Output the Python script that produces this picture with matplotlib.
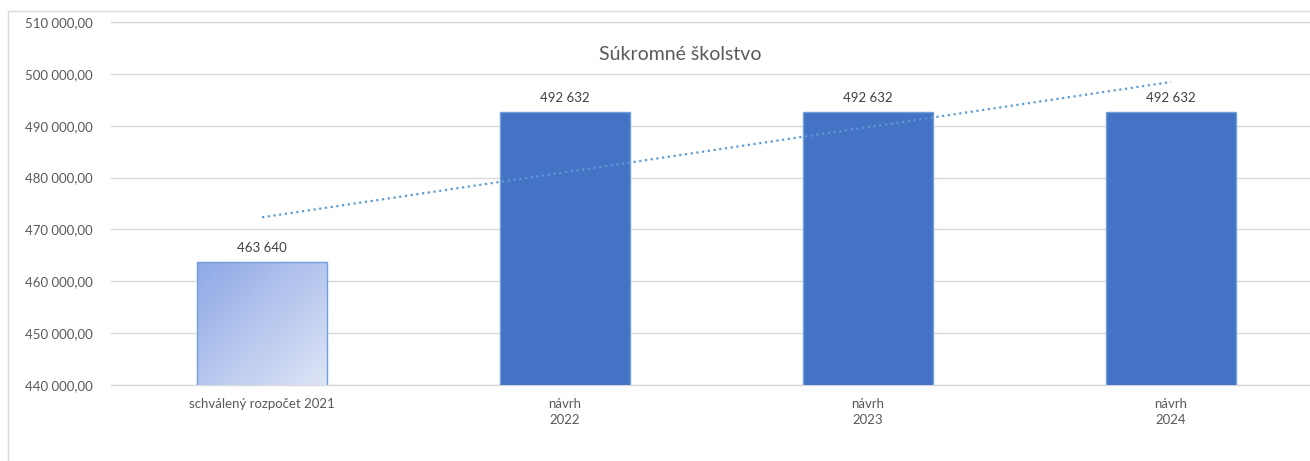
import matplotlib.pyplot as plt
import numpy as np
from matplotlib.patches import Rectangle

# data
categories = ["schválený rozpočet 2021", "návrh\n2022", "návrh\n2023", "návrh\n2024"]
values = [463640, 492632, 492632, 492632]
title = "Súkromné školstvo"

plt.rcParams['font.family'] = ['Lato', 'DejaVu Sans']

fig = plt.figure(figsize=(13.10, 4.61), dpi=100)
ax = fig.add_axes([110.5 / 1310, 76 / 461, 1212 / 1310, 363 / 461])

x = np.arange(len(values))
bars = ax.bar(x, values, width=0.43, color='#4472C4', edgecolor='#6FA0DC',
              linewidth=1, zorder=3)

# gradient fill for first bar (dark top-left -> light bottom-right)
b0 = bars[0]
b0.set_facecolor('none')
gx, gy = np.meshgrid(np.linspace(0, 1, 200), np.linspace(0, 1, 200))
t = (gx + gy) / 2
c1 = np.array([0x8E, 0xA8, 0xE6]) / 255
c2 = np.array([0xDF, 0xE5, 0xF6]) / 255
img = c1[None, None, :] * (1 - t[..., None]) + c2[None, None, :] * t[..., None]
bx0 = b0.get_x()
bw = b0.get_width()
im = ax.imshow(img, extent=[bx0, bx0 + bw, 440000, values[0]], aspect='auto',
               origin='upper', zorder=2)
im.set_clip_path(b0)

# data labels
for xi, v in zip(x, values):
    ax.annotate(f"{v:,}".replace(",", " "), (xi, v), xytext=(0, 6),
                textcoords='offset points', ha='center', va='bottom',
                fontsize=9.5, color='#404040')

# linear trendline
coef = np.polyfit(x + 1, values, 1)
trend = np.polyval(coef, x + 1)
ax.plot(x, trend, linestyle=(0, (1, 1.6)), color='#5B9BD5', linewidth=1.6, zorder=4)

yticks = np.arange(440000, 510001, 10000)
ax.set_xlim(-0.5, len(values) - 0.5)
ax.set_ylim(440000, 510000)
ax.set_yticks(yticks)
ax.set_yticklabels([f"{v:,.2f}".replace(",", " ").replace(".", ",") for v in yticks])
ax.set_xticks(x)
ax.set_xticklabels(categories, linespacing=1.45)
ax.tick_params(axis='both', length=0, labelsize=9.5, labelcolor='#595959')
ax.tick_params(axis='y', pad=13)
ax.tick_params(axis='x', pad=9)
ax.grid(axis='y', color='#D9D9D9', linewidth=1, zorder=0)
ax.axhline(440000, color='#D9D9D9', linewidth=1, zorder=1, clip_on=False)
ax.axhline(510000, color='#D9D9D9', linewidth=1, zorder=1, clip_on=False)
for s in ax.spines.values():
    s.set_visible(False)

fig.text(680 / 1310, 1 - 55 / 461, title, ha='center', va='center',
         fontsize=14, color='#595959')

# chart border
fig.patches.append(Rectangle((8 / 1310, -0.1), 1.2, 1 - 11 / 461 + 0.1,
                             transform=fig.transFigure, fill=False,
                             edgecolor='#D9D9D9', linewidth=1))

fig.savefig("out.png", dpi=100)
